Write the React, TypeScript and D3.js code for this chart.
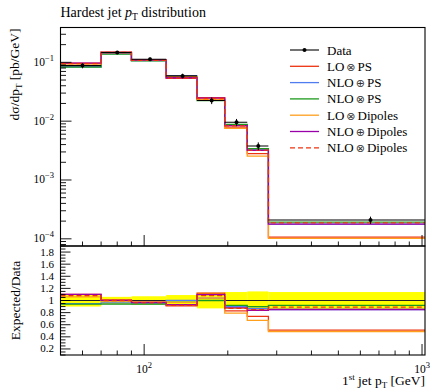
import React from "react";
import * as d3 from "d3";

// ---- data ----
const binEdges = [50, 70, 90, 120, 155, 195, 235, 280, 1025];
const dataValues = [0.088, 0.147, 0.113, 0.0588, 0.0224, 0.00957, 0.00379, 0.000209];
const dataRelErr = [0.10, 0.06, 0.07, 0.09, 0.13, 0.14, 0.15, 0.14];

const loPS = [0.0968, 0.1485, 0.1096, 0.0535, 0.0251, 0.00794, 0.0028, 0.000107];
const nloPlusPS = [0.0836, 0.1411, 0.1074, 0.0588, 0.0233, 0.00861, 0.0033, 0.000178];
const nloTimesPS = [0.0827, 0.1382, 0.1062, 0.057, 0.0224, 0.0088, 0.00341, 0.000192];
const loDipoles = [0.0933, 0.147, 0.1107, 0.057, 0.0233, 0.00756, 0.00254, 0.000102];
const nloPlusDipoles = [0.0968, 0.147, 0.1096, 0.0547, 0.0246, 0.00842, 0.00318, 0.000178];
const nloTimesDipoles = [0.095, 0.147, 0.1085, 0.0541, 0.0242, 0.00833, 0.00322, 0.000186];

const seriesNames = [["LO", "⊗", "PS"], ["NLO", "⊕", "PS"], ["NLO", "⊗", "PS"], ["LO", "⊗", "Dipoles"], ["NLO", "⊕", "Dipoles"], ["NLO", "⊗", "Dipoles"]];
const seriesValues = [loPS, nloPlusPS, nloTimesPS, loDipoles, nloPlusDipoles, nloTimesDipoles];
const seriesColors = ["#ee3311", "#4f7df0", "#1c9a1c", "#ff9f1c", "#9a00a8", "#ee3311"];
const seriesDash = ["", "", "", "", "", "5,3"];

const mainYTicks = [1e-4, 1e-3, 1e-2, 1e-1];
const ratioYTicks = [0.2, 0.4, 0.6, 0.8, 1, 1.2, 1.4, 1.6, 1.8];
const xMajorTicks = [100, 1000];

// ---- layout ----
const W = 433, H = 389;
const L = 60.5, R = 425, T = 27.5, M = 246, B = 355;
const FONT = "'Liberation Serif', 'DejaVu Serif', serif";

const x = d3.scaleLog().domain([50, 1025]).range([L, R]);
const yMain = d3.scaleLog().domain([7.55e-5, 0.391]).range([M, T]);
const yRatio = d3.scaleLinear().domain([0.1, 1.9]).range([B, M]);

function stepPoints(vals: number[], f: (v: number, i: number) => number): [number, number][] {
  const pts: [number, number][] = [];
  vals.forEach((v, i) => {
    pts.push([x(binEdges[i]), f(v, i)]);
    pts.push([x(binEdges[i + 1]), f(v, i)]);
  });
  return pts;
}
const line = d3.line();

const xMinor: number[] = [];
[10, 100].forEach((dec) => {
  for (let k = 1; k <= 9; k++) {
    const v = dec * k;
    if (v >= 50 && v <= 1025) xMinor.push(v);
  }
});
xMinor.push(1000);

const yMinorMain: number[] = [];
[1e-5, 1e-4, 1e-3, 1e-2, 1e-1].forEach((dec) => {
  for (let k = 2; k <= 9; k++) {
    const v = dec * k;
    if (v >= 7.55e-5 && v <= 0.391) yMinorMain.push(v);
  }
});
const ratioMinor = d3.range(0.1, 1.9001, 0.05);

export default function App() {
  const legendY0 = 50;
  const legendDy = 16.3;
  const mids = binEdges.slice(0, -1).map((e, i) => (e + binEdges[i + 1]) / 2);
  return (
    <svg width={W} height={H} style={{ position: "absolute", left: 0, top: 0, background: "#fff" }}
      fontFamily={FONT}>
      <defs>
        <clipPath id="clipMain"><rect x={L} y={T} width={R - L} height={M - T} /></clipPath>
        <clipPath id="clipRatio"><rect x={L} y={M} width={R - L} height={B - M} /></clipPath>
      </defs>
      {/* title */}
      <text x={L} y={16.5} fontSize={14}>
        Hardest jet <tspan fontStyle="italic">p</tspan>
        <tspan fontSize={9.5} dy={3}>T</tspan>
        <tspan dy={-3}> distribution</tspan>
      </text>

      {/* main panel curves */}
      <g clipPath="url(#clipMain)">
        {seriesValues.map((vals, s) => (
          <path key={s} d={line(stepPoints(vals, (v) => yMain(v))) || ""} fill="none"
            stroke={seriesColors[s]} strokeWidth={1.3} strokeDasharray={seriesDash[s]} />
        ))}
        {dataValues.map((v, i) => (
          <g key={i}>
            <line x1={x(binEdges[i])} x2={x(binEdges[i + 1])} y1={yMain(v)} y2={yMain(v)} stroke="#000" strokeWidth={1.1} />
            <line x1={x(mids[i])} x2={x(mids[i])} y1={yMain(v * (1 - dataRelErr[i]))} y2={yMain(v * (1 + dataRelErr[i]))} stroke="#000" strokeWidth={1} />
            <circle cx={x(mids[i])} cy={yMain(v)} r={2} fill="#000" />
          </g>
        ))}
      </g>

      {/* ratio panel */}
      <g clipPath="url(#clipRatio)">
        {dataValues.map((v, i) => (
          <rect key={i} x={x(binEdges[i])} width={x(binEdges[i + 1]) - x(binEdges[i])}
            y={yRatio(1 + dataRelErr[i])} height={yRatio(1 - dataRelErr[i]) - yRatio(1 + dataRelErr[i])}
            fill="#ffff00" />
        ))}
        <line x1={L} x2={R} y1={yRatio(1)} y2={yRatio(1)} stroke="#222" strokeWidth={1.1} />
        {seriesValues.map((vals, s) => (
          <path key={s} d={line(stepPoints(vals, (v, i) => yRatio(v / dataValues[i]))) || ""} fill="none"
            stroke={seriesColors[s]} strokeWidth={1.3} strokeDasharray={seriesDash[s]} />
        ))}
      </g>

      {/* frames */}
      <rect x={L} y={T} width={R - L} height={M - T} fill="none" stroke="#000" strokeWidth={1.1} />
      <rect x={L} y={M} width={R - L} height={B - M} fill="none" stroke="#000" strokeWidth={1.1} />

      {/* x ticks on both panels */}
      {[M, B].map((yb, k) => (
        <g key={k}>
          {xMinor.map((v, i) => (
            <line key={i} x1={x(v)} x2={x(v)} y1={yb} y2={yb - (xMajorTicks.includes(v) ? 11 : 4.5)} stroke="#000" strokeWidth={0.9} />
          ))}
        </g>
      ))}
      {/* main y ticks */}
      {mainYTicks.map((v, i) => (
        <g key={i}>
          <line x1={L} x2={L + 11} y1={yMain(v)} y2={yMain(v)} stroke="#000" strokeWidth={0.9} />
          <text x={54} y={yMain(v) + 3.5} fontSize={11.5} textAnchor="end">
            10<tspan fontSize={8.5} dy={-5}>{"\u2212" + String(Math.round(-Math.log10(v)))}</tspan>
          </text>
        </g>
      ))}
      {yMinorMain.map((v, i) => (
        <line key={i} x1={L} x2={L + 5.5} y1={yMain(v)} y2={yMain(v)} stroke="#000" strokeWidth={0.9} />
      ))}
      {/* ratio y ticks */}
      {ratioMinor.map((v, i) => {
        const major = Math.abs(v * 5 - Math.round(v * 5)) < 1e-6;
        return (
          <line key={i} x1={L} x2={L + (major ? 10 : 5)} y1={yRatio(v)} y2={yRatio(v)} stroke="#000" strokeWidth={0.9} />
        );
      })}
      {ratioYTicks.map((v, i) => (
        <text key={i} x={54} y={yRatio(v) + 3.5} fontSize={11} textAnchor="end">{String(v)}</text>
      ))}
      {/* x tick labels */}
      {xMajorTicks.map((v, i) => (
        <text key={i} x={x(v)} y={372.5} fontSize={11.5} textAnchor="middle">
          10<tspan fontSize={8.5} dy={-5}>{String(Math.round(Math.log10(v)))}</tspan>
        </text>
      ))}

      {/* axis labels */}
      <text x={R} y={385} fontSize={13.5} textAnchor="end">
        1<tspan fontSize={9} dy={-5}>st</tspan><tspan dy={5}> jet p</tspan>
        <tspan fontSize={9} dy={2.5}>T</tspan><tspan dy={-2.5}> [GeV]</tspan>
      </text>
      <text transform={`translate(19,${T + 1}) rotate(-90)`} fontSize={13.5} textAnchor="end">
        dσ/dp<tspan fontSize={9} dy={2.5}>T</tspan><tspan dy={-2.5}> [pb/GeV]</tspan>
      </text>
      <text transform={`translate(20,${(M + B) / 2}) rotate(-90)`} fontSize={13.5} textAnchor="middle">
        Expected/Data
      </text>

      {/* legend */}
      <g>
        <line x1={290} x2={319} y1={legendY0} y2={legendY0} stroke="#000" strokeWidth={1.1} />
        <circle cx={304.5} cy={legendY0} r={2} fill="#000" />
        <text x={327} y={legendY0 + 4.5} fontSize={13}>Data</text>
        {seriesNames.map((n, s) => {
          const yy = legendY0 + legendDy * (s + 1);
          return (
            <g key={s}>
              <line x1={290} x2={319} y1={yy} y2={yy} stroke={seriesColors[s]} strokeWidth={1.3} strokeDasharray={seriesDash[s]} />
              <text x={327} y={yy + 4.5} fontSize={13}>
                {n[0]}
                <tspan fontFamily="'DejaVu Sans', sans-serif" fontSize={11} fill="#333" dx={2}>{n[1]}</tspan>
                <tspan dx={2}>{n[2]}</tspan>
              </text>
            </g>
          );
        })}
      </g>
    </svg>
  );
}
